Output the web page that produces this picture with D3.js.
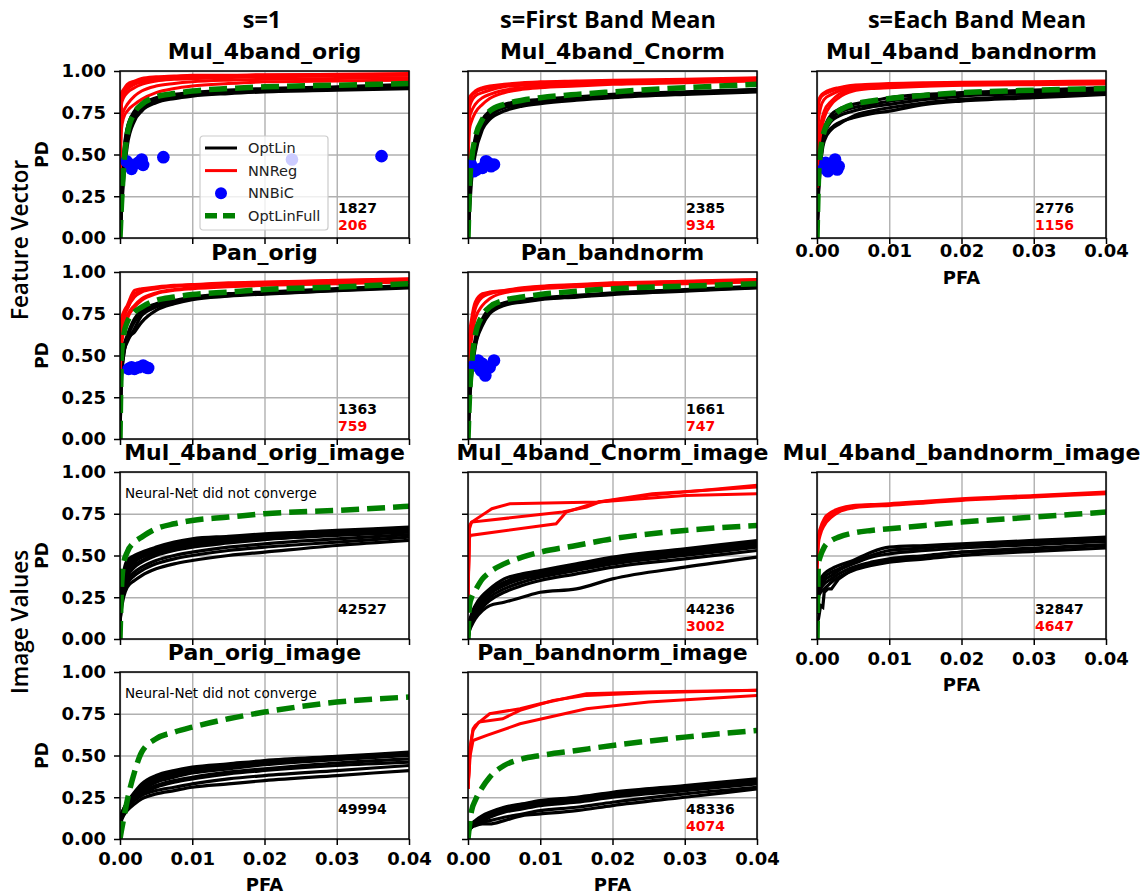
<!DOCTYPE html>
<html>
<head>
<meta charset="utf-8">
<script src="https://cdn.jsdelivr.net/npm/d3@7"></script>
<style>
body { margin: 0; background: #fff; }
</style>
</head>
<body>
<div id="chart"></div>
<script>
// shared PFA points for the smooth ROC curves
var pfaGrid = [0, 0.0002, 0.0005, 0.001, 0.002, 0.003, 0.005, 0.0075, 0.01, 0.015, 0.02, 0.03, 0.04];
var pfaTicks = [0, 0.01, 0.02, 0.03, 0.04];
var pdTicks = [0, 0.25, 0.5, 0.75, 1];
var colTitles = ["s=1", "s=First Band Mean", "s=Each Band Mean"];
var rowTitles = ["Feature Vector", "Image Values"];
var legendNames = ["OptLin", "NNReg", "NNBiC", "OptLinFull"];
var noteText = "Neural-Net did not converge";

// ---- Mul_4band_orig
var mulOrigLin = [
  [0, 0.22, 0.45, 0.62, 0.74, 0.79, 0.83, 0.85, 0.86, 0.875, 0.885, 0.895, 0.91],
  [0, 0.18, 0.40, 0.58, 0.72, 0.77, 0.82, 0.84, 0.855, 0.87, 0.88, 0.89, 0.90],
  [0, 0.25, 0.48, 0.65, 0.76, 0.80, 0.84, 0.86, 0.87, 0.885, 0.895, 0.905, 0.92],
  [0, 0.15, 0.35, 0.55, 0.70, 0.76, 0.81, 0.835, 0.85, 0.865, 0.875, 0.885, 0.895],
  [0, 0.20, 0.42, 0.60, 0.73, 0.78, 0.825, 0.845, 0.86, 0.87, 0.88, 0.895, 0.905],
  [0, 0.28, 0.50, 0.66, 0.75, 0.79, 0.835, 0.855, 0.865, 0.88, 0.89, 0.90, 0.915]
];
var mulOrigReg = [
  [0.5, 0.87, 0.89, 0.92, 0.94, 0.955, 0.965, 0.97, 0.975, 0.975, 0.978, 0.98, 0.985],
  [0.45, 0.84, 0.87, 0.90, 0.93, 0.945, 0.955, 0.965, 0.97, 0.972, 0.975, 0.978, 0.98],
  [0.4, 0.80, 0.84, 0.87, 0.90, 0.92, 0.94, 0.95, 0.955, 0.96, 0.965, 0.97, 0.975],
  [0.4, 0.72, 0.76, 0.80, 0.85, 0.88, 0.91, 0.925, 0.935, 0.945, 0.95, 0.955, 0.96],
  [0.35, 0.65, 0.72, 0.76, 0.80, 0.83, 0.87, 0.895, 0.91, 0.925, 0.935, 0.94, 0.945],
  [0.45, 0.82, 0.86, 0.89, 0.92, 0.935, 0.95, 0.96, 0.965, 0.968, 0.97, 0.975, 0.978]
];
var mulOrigBiC = [[0.0009, 0.46], [0.0016, 0.414], [0.0014, 0.44], [0.0025, 0.45], [0.003, 0.47], [0.0032, 0.438], [0.006, 0.484], [0.0238, 0.47], [0.0362, 0.49]];
var mulOrigFull = [0, 0.2, 0.42, 0.62, 0.75, 0.80, 0.845, 0.865, 0.88, 0.895, 0.905, 0.915, 0.925];

// ---- Mul_4band_Cnorm
var mulCnormLin = [
  [0, 0.2, 0.4, 0.55, 0.68, 0.73, 0.78, 0.80, 0.815, 0.835, 0.85, 0.865, 0.88],
  [0, 0.25, 0.45, 0.6, 0.71, 0.76, 0.8, 0.82, 0.83, 0.845, 0.86, 0.875, 0.89],
  [0, 0.15, 0.35, 0.5, 0.65, 0.71, 0.76, 0.79, 0.805, 0.825, 0.84, 0.86, 0.875],
  [0, 0.22, 0.42, 0.58, 0.7, 0.75, 0.79, 0.81, 0.825, 0.84, 0.855, 0.87, 0.885]
];
var mulCnormReg = [
  [0.5, 0.82, 0.85, 0.87, 0.89, 0.9, 0.915, 0.925, 0.93, 0.935, 0.94, 0.945, 0.955],
  [0.45, 0.78, 0.82, 0.85, 0.87, 0.885, 0.905, 0.915, 0.92, 0.93, 0.935, 0.94, 0.95],
  [0.4, 0.72, 0.76, 0.8, 0.84, 0.86, 0.885, 0.9, 0.91, 0.92, 0.925, 0.935, 0.945],
  [0.45, 0.65, 0.7, 0.75, 0.8, 0.835, 0.87, 0.89, 0.9, 0.91, 0.92, 0.93, 0.94],
  [0.5, 0.84, 0.86, 0.88, 0.9, 0.91, 0.92, 0.93, 0.935, 0.94, 0.945, 0.95, 0.96]
];
var mulCnormBiC = [[0.0004, 0.44], [0.0008, 0.40], [0.0012, 0.41], [0.002, 0.42], [0.0028, 0.45], [0.0032, 0.43], [0.0036, 0.44], [0.0025, 0.46]];
var mulCnormFull = [0, 0.3, 0.47, 0.6, 0.71, 0.76, 0.8, 0.825, 0.84, 0.86, 0.875, 0.9, 0.92];

// ---- Mul_4band_bandnorm
var mulBandLin = [
  [0, 0.3, 0.5, 0.65, 0.74, 0.77, 0.8, 0.82, 0.84, 0.86, 0.87, 0.885, 0.9],
  [0, 0.28, 0.45, 0.6, 0.66, 0.69, 0.72, 0.745, 0.76, 0.8, 0.82, 0.84, 0.86],
  [0, 0.3, 0.48, 0.62, 0.7, 0.73, 0.76, 0.785, 0.8, 0.83, 0.85, 0.865, 0.88],
  [0, 0.32, 0.5, 0.64, 0.72, 0.75, 0.78, 0.8, 0.82, 0.845, 0.86, 0.875, 0.89],
  [0, 0.25, 0.44, 0.58, 0.65, 0.68, 0.73, 0.76, 0.78, 0.81, 0.83, 0.85, 0.87]
];
var mulBandReg = [
  [0.45, 0.8, 0.84, 0.86, 0.88, 0.895, 0.91, 0.915, 0.92, 0.925, 0.928, 0.932, 0.935],
  [0.4, 0.7, 0.78, 0.83, 0.86, 0.88, 0.9, 0.91, 0.915, 0.92, 0.924, 0.928, 0.932],
  [0.35, 0.6, 0.68, 0.76, 0.82, 0.86, 0.89, 0.9, 0.905, 0.912, 0.918, 0.922, 0.926],
  [0.3, 0.5, 0.62, 0.72, 0.8, 0.84, 0.88, 0.895, 0.9, 0.908, 0.914, 0.918, 0.922],
  [0.45, 0.82, 0.85, 0.87, 0.89, 0.9, 0.915, 0.92, 0.925, 0.93, 0.932, 0.936, 0.94]
];
var mulBandBiC = [[0.001, 0.42], [0.0015, 0.40], [0.002, 0.44], [0.0025, 0.47], [0.003, 0.43], [0.0028, 0.41], [0.0012, 0.45]];
var mulBandFull = [0, 0.35, 0.52, 0.64, 0.72, 0.76, 0.8, 0.82, 0.835, 0.855, 0.87, 0.885, 0.895];

// ---- Pan_orig
var panOrigLin = [
  [0, 0.4, 0.52, 0.58, 0.66, 0.74, 0.79, 0.82, 0.84, 0.86, 0.87, 0.89, 0.91],
  [0, 0.38, 0.5, 0.6, 0.7, 0.76, 0.8, 0.825, 0.845, 0.865, 0.875, 0.895, 0.915],
  [0, 0.42, 0.55, 0.62, 0.72, 0.77, 0.81, 0.83, 0.85, 0.87, 0.88, 0.9, 0.92],
  [0, 0.35, 0.5, 0.6, 0.64, 0.7, 0.77, 0.81, 0.835, 0.855, 0.868, 0.888, 0.905]
];
var panOrigReg = [
  [0.45, 0.72, 0.76, 0.8, 0.89, 0.9, 0.91, 0.92, 0.925, 0.935, 0.94, 0.95, 0.96],
  [0.4, 0.65, 0.72, 0.78, 0.85, 0.88, 0.9, 0.915, 0.92, 0.93, 0.935, 0.945, 0.955],
  [0.38, 0.6, 0.68, 0.74, 0.8, 0.84, 0.875, 0.895, 0.905, 0.918, 0.925, 0.935, 0.945],
  [0.42, 0.7, 0.74, 0.78, 0.87, 0.89, 0.905, 0.915, 0.922, 0.93, 0.937, 0.947, 0.957],
  [0.35, 0.55, 0.64, 0.72, 0.79, 0.83, 0.87, 0.89, 0.9, 0.912, 0.92, 0.93, 0.94]
];
var panOrigBiC = [[0.0012, 0.42], [0.0016, 0.43], [0.002, 0.42], [0.0026, 0.43], [0.0032, 0.44], [0.0036, 0.43], [0.0039, 0.425]];
var panOrigFull = [0, 0.5, 0.62, 0.7, 0.76, 0.79, 0.83, 0.85, 0.865, 0.88, 0.895, 0.91, 0.93];

// ---- Pan_bandnorm
var panBandLin = [
  [0, 0.25, 0.42, 0.58, 0.7, 0.76, 0.81, 0.83, 0.84, 0.855, 0.87, 0.89, 0.91],
  [0, 0.2, 0.38, 0.55, 0.68, 0.75, 0.8, 0.82, 0.835, 0.85, 0.865, 0.885, 0.905],
  [0, 0.28, 0.45, 0.6, 0.72, 0.78, 0.815, 0.835, 0.845, 0.86, 0.875, 0.895, 0.915],
  [0, 0.22, 0.4, 0.56, 0.69, 0.76, 0.805, 0.825, 0.838, 0.853, 0.868, 0.888, 0.908]
];
var panBandReg = [
  [0.45, 0.62, 0.72, 0.82, 0.87, 0.88, 0.89, 0.905, 0.915, 0.925, 0.935, 0.945, 0.955],
  [0.4, 0.55, 0.66, 0.78, 0.85, 0.87, 0.885, 0.9, 0.91, 0.92, 0.93, 0.94, 0.95],
  [0.38, 0.5, 0.6, 0.72, 0.8, 0.84, 0.875, 0.89, 0.9, 0.912, 0.92, 0.93, 0.94],
  [0.42, 0.58, 0.68, 0.8, 0.86, 0.875, 0.888, 0.902, 0.912, 0.922, 0.932, 0.942, 0.952]
];
var panBandBiC = [[0.0008, 0.44], [0.0014, 0.47], [0.002, 0.45], [0.0018, 0.41], [0.0024, 0.38], [0.0026, 0.42], [0.0036, 0.47], [0.003, 0.43]];
var panBandFull = [0, 0.25, 0.44, 0.62, 0.74, 0.79, 0.83, 0.85, 0.865, 0.885, 0.9, 0.915, 0.93];

// ---- Mul_4band_orig_image (no NN result)
var mulOrigImgLin = [
  [0.15, 0.3, 0.4, 0.47, 0.5, 0.52, 0.55, 0.58, 0.6, 0.615, 0.63, 0.65, 0.67],
  [0.15, 0.28, 0.37, 0.44, 0.48, 0.5, 0.53, 0.56, 0.58, 0.6, 0.615, 0.64, 0.66],
  [0.12, 0.25, 0.34, 0.41, 0.46, 0.49, 0.52, 0.545, 0.565, 0.59, 0.605, 0.63, 0.65],
  [0.12, 0.22, 0.3, 0.37, 0.43, 0.46, 0.5, 0.53, 0.55, 0.575, 0.595, 0.62, 0.64],
  [0.1, 0.2, 0.27, 0.33, 0.38, 0.41, 0.45, 0.48, 0.5, 0.53, 0.55, 0.58, 0.61],
  [0.1, 0.18, 0.25, 0.31, 0.35, 0.38, 0.42, 0.45, 0.47, 0.5, 0.52, 0.56, 0.59],
  [0.15, 0.3, 0.38, 0.45, 0.49, 0.51, 0.54, 0.57, 0.59, 0.605, 0.62, 0.645, 0.665],
  [0.12, 0.24, 0.32, 0.39, 0.44, 0.47, 0.51, 0.54, 0.56, 0.585, 0.6, 0.625, 0.645],
  [0.1, 0.21, 0.29, 0.35, 0.4, 0.43, 0.47, 0.5, 0.52, 0.55, 0.57, 0.6, 0.625],
  [0.13, 0.27, 0.36, 0.43, 0.47, 0.5, 0.53, 0.555, 0.575, 0.595, 0.61, 0.635, 0.655]
];
var mulOrigImgFull = [0, 0.3, 0.45, 0.52, 0.58, 0.61, 0.66, 0.69, 0.71, 0.73, 0.75, 0.77, 0.795];

// ---- Mul_4band_Cnorm_image
var mulCnormImgLin = [
  [0, 0.1, 0.15, 0.2, 0.26, 0.3, 0.36, 0.39, 0.41, 0.45, 0.49, 0.54, 0.59],
  [0, 0.08, 0.13, 0.18, 0.24, 0.28, 0.33, 0.37, 0.39, 0.43, 0.47, 0.52, 0.57],
  [0, 0.06, 0.1, 0.15, 0.21, 0.25, 0.3, 0.34, 0.37, 0.41, 0.45, 0.5, 0.55],
  [0, 0.05, 0.08, 0.12, 0.17, 0.2, 0.22, 0.25, 0.28, 0.3, 0.36, 0.43, 0.49],
  [0, 0.05, 0.09, 0.14, 0.19, 0.23, 0.28, 0.32, 0.35, 0.39, 0.43, 0.48, 0.53],
  [0, 0.09, 0.14, 0.19, 0.25, 0.29, 0.34, 0.38, 0.4, 0.44, 0.48, 0.53, 0.58],
  [0, 0.07, 0.12, 0.17, 0.23, 0.27, 0.32, 0.36, 0.38, 0.42, 0.46, 0.51, 0.56]
];
var mulCnormImgReg = [
  [[0, 0.25], [0.0002, 0.66], [0.0005, 0.70], [0.0033, 0.78], [0.0058, 0.81], [0.018, 0.82], [0.0255, 0.87], [0.04, 0.91]],
  [[0, 0.25], [0.0002, 0.68], [0.0005, 0.70], [0.0131, 0.76], [0.0164, 0.79], [0.0182, 0.82], [0.025, 0.86], [0.04, 0.92]],
  [[0, 0.25], [0.0002, 0.6], [0.0003, 0.62], [0.0122, 0.69], [0.0136, 0.76], [0.018, 0.82], [0.03, 0.86], [0.04, 0.87]]
];
var mulCnormImgFull = [0, 0.2, 0.25, 0.29, 0.36, 0.4, 0.45, 0.49, 0.52, 0.56, 0.6, 0.65, 0.68];

// ---- Mul_4band_bandnorm_image
var mulBandImgLin = [
  [0.25, 0.33, 0.36, 0.39, 0.42, 0.44, 0.47, 0.52, 0.55, 0.56, 0.57, 0.59, 0.61],
  [0.22, 0.3, 0.34, 0.37, 0.4, 0.42, 0.46, 0.5, 0.53, 0.545, 0.56, 0.58, 0.6],
  [0.2, 0.28, 0.32, 0.35, 0.38, 0.41, 0.45, 0.49, 0.51, 0.53, 0.545, 0.565, 0.585],
  [0.18, 0.26, 0.3, 0.33, 0.36, 0.39, 0.43, 0.46, 0.48, 0.5, 0.52, 0.545, 0.565],
  [0.15, 0.25, 0.28, 0.3, 0.34, 0.37, 0.41, 0.44, 0.46, 0.48, 0.5, 0.525, 0.545],
  [[0, 0.1], [0.0002, 0.12], [0.0005, 0.2], [0.0008, 0.19], [0.001, 0.28], [0.0015, 0.3], [0.002, 0.3], [0.003, 0.36], [0.005, 0.42], [0.01, 0.47], [0.02, 0.52], [0.04, 0.56]]
];
var mulBandImgReg = [
  [0.45, 0.62, 0.67, 0.72, 0.76, 0.78, 0.8, 0.805, 0.81, 0.825, 0.84, 0.86, 0.88],
  [0.42, 0.6, 0.65, 0.7, 0.745, 0.77, 0.79, 0.8, 0.805, 0.82, 0.835, 0.855, 0.875],
  [0.4, 0.57, 0.63, 0.68, 0.73, 0.76, 0.785, 0.795, 0.8, 0.815, 0.83, 0.85, 0.87]
];
var mulBandImgFull = [0, 0.45, 0.5, 0.55, 0.59, 0.61, 0.635, 0.65, 0.66, 0.68, 0.7, 0.73, 0.76];

// ---- Pan_orig_image (no NN result)
var panOrigImgLin = [
  [0.12, 0.15, 0.18, 0.22, 0.28, 0.33, 0.38, 0.41, 0.43, 0.45, 0.47, 0.495, 0.52],
  [0.12, 0.14, 0.17, 0.21, 0.27, 0.31, 0.36, 0.39, 0.41, 0.435, 0.455, 0.485, 0.51],
  [0.1, 0.13, 0.16, 0.2, 0.25, 0.29, 0.34, 0.37, 0.395, 0.42, 0.445, 0.475, 0.5],
  [0.1, 0.12, 0.15, 0.19, 0.24, 0.27, 0.31, 0.34, 0.36, 0.39, 0.41, 0.44, 0.46],
  [0.08, 0.11, 0.14, 0.17, 0.21, 0.24, 0.27, 0.29, 0.31, 0.33, 0.35, 0.38, 0.41],
  [0.1, 0.13, 0.16, 0.19, 0.23, 0.26, 0.29, 0.31, 0.33, 0.36, 0.38, 0.41, 0.44],
  [0.12, 0.15, 0.18, 0.22, 0.27, 0.32, 0.37, 0.4, 0.42, 0.44, 0.465, 0.49, 0.515],
  [0.11, 0.14, 0.17, 0.21, 0.26, 0.3, 0.35, 0.38, 0.4, 0.43, 0.45, 0.48, 0.505],
  [0.1, 0.13, 0.16, 0.2, 0.25, 0.28, 0.32, 0.35, 0.37, 0.4, 0.42, 0.455, 0.48]
];
var panOrigImgFull = [0, 0.05, 0.12, 0.23, 0.4, 0.52, 0.6, 0.64, 0.67, 0.72, 0.76, 0.82, 0.85];

// ---- Pan_bandnorm_image
var panBandImgLin = [
  [0.05, 0.07, 0.09, 0.11, 0.14, 0.16, 0.19, 0.21, 0.23, 0.25, 0.28, 0.32, 0.36],
  [0.05, 0.07, 0.08, 0.1, 0.13, 0.15, 0.18, 0.2, 0.22, 0.24, 0.27, 0.31, 0.35],
  [0.04, 0.06, 0.08, 0.1, 0.12, 0.14, 0.17, 0.19, 0.21, 0.23, 0.26, 0.3, 0.34],
  [0.04, 0.06, 0.07, 0.09, 0.11, 0.13, 0.16, 0.18, 0.2, 0.22, 0.25, 0.29, 0.33],
  [0.03, 0.05, 0.07, 0.08, 0.09, 0.09, 0.11, 0.14, 0.15, 0.17, 0.2, 0.25, 0.3],
  [0.04, 0.06, 0.07, 0.09, 0.1, 0.11, 0.13, 0.15, 0.17, 0.19, 0.22, 0.27, 0.31],
  [0.05, 0.07, 0.085, 0.105, 0.135, 0.155, 0.185, 0.205, 0.225, 0.245, 0.275, 0.315, 0.355]
];
var panBandImgReg = [
  [[0, 0.3], [0.0003, 0.55], [0.0007, 0.66], [0.001, 0.68], [0.003, 0.75], [0.0072, 0.78], [0.01, 0.81], [0.0164, 0.87], [0.025, 0.88], [0.04, 0.89]],
  [[0, 0.3], [0.0003, 0.55], [0.0007, 0.65], [0.0015, 0.7], [0.0048, 0.72], [0.0072, 0.77], [0.0118, 0.83], [0.0164, 0.86], [0.025, 0.875], [0.04, 0.89]],
  [[0, 0.3], [0.0003, 0.5], [0.0007, 0.59], [0.0026, 0.62], [0.0072, 0.69], [0.0164, 0.78], [0.025, 0.82], [0.04, 0.86]]
];
var panBandImgFull = [0, 0.08, 0.17, 0.23, 0.31, 0.37, 0.44, 0.48, 0.5, 0.53, 0.56, 0.61, 0.65];

// counts printed in each panel: [OptLin, NNReg]
var panelCounts = {
  "Mul_4band_orig": ["1827", "206"],
  "Mul_4band_Cnorm": ["2385", "934"],
  "Mul_4band_bandnorm": ["2776", "1156"],
  "Pan_orig": ["1363", "759"],
  "Pan_bandnorm": ["1661", "747"],
  "Mul_4band_orig_image": ["42527", null],
  "Mul_4band_Cnorm_image": ["44236", "3002"],
  "Mul_4band_bandnorm_image": ["32847", "4647"],
  "Pan_orig_image": ["49994", null],
  "Pan_bandnorm_image": ["48336", "4074"]
};

var panels = [
  {name: "Mul_4band_orig", col: 0, row: 0, lin: mulOrigLin, reg: mulOrigReg, bic: mulOrigBiC, full: mulOrigFull, legend: true},
  {name: "Mul_4band_Cnorm", col: 1, row: 0, lin: mulCnormLin, reg: mulCnormReg, bic: mulCnormBiC, full: mulCnormFull},
  {name: "Mul_4band_bandnorm", col: 2, row: 0, lin: mulBandLin, reg: mulBandReg, bic: mulBandBiC, full: mulBandFull, xlab: true},
  {name: "Pan_orig", col: 0, row: 1, lin: panOrigLin, reg: panOrigReg, bic: panOrigBiC, full: panOrigFull},
  {name: "Pan_bandnorm", col: 1, row: 1, lin: panBandLin, reg: panBandReg, bic: panBandBiC, full: panBandFull},
  {name: "Mul_4band_orig_image", col: 0, row: 2, lin: mulOrigImgLin, reg: [], bic: [], full: mulOrigImgFull, note: true},
  {name: "Mul_4band_Cnorm_image", col: 1, row: 2, lin: mulCnormImgLin, reg: mulCnormImgReg, bic: [], full: mulCnormImgFull},
  {name: "Mul_4band_bandnorm_image", col: 2, row: 2, lin: mulBandImgLin, reg: mulBandImgReg, bic: [], full: mulBandImgFull, xlab: true},
  {name: "Pan_orig_image", col: 0, row: 3, lin: panOrigImgLin, reg: [], bic: [], full: panOrigImgFull, note: true, xlab: true},
  {name: "Pan_bandnorm_image", col: 1, row: 3, lin: panBandImgLin, reg: panBandImgReg, bic: [], full: panBandImgFull, xlab: true}
];

// layout
var W = 1146, H = 896;
var colX = [120, 468, 817];
var rowY = [71, 272, 472, 672];
var pw = 289, ph = 167;
var tickFont = "DejaVu Sans, sans-serif";
var headFont = "'Open Sans', sans-serif";

var svg = d3.select('#chart').append('svg')
  .attr('width', W)
  .attr('height', H);

function toPoints(c) {
  if (typeof c[0] === 'number') {
    return c.map(function(v, i) { return {x: pfaGrid[i], y: v}; });
  }
  return c.map(function(p) { return {x: p[0], y: p[1]}; });
}

var xScale = d3.scaleLinear().domain([0, 0.04]).range([0, pw]);
var yScale = d3.scaleLinear().domain([0, 1]).range([ph, 0]);

function lineFor(c) {
  return d3.line()
    .x(function(d) { return xScale(d.x); })
    .y(function(d) { return yScale(d.y); })
    .curve(typeof c[0] === 'number' ? d3.curveMonotoneX : d3.curveLinear)(toPoints(c));
}

panels.forEach(function(p, k) {
  var x0 = colX[p.col], y0 = rowY[p.row];
  var g = svg.append('g').attr('transform', 'translate(' + x0 + ',' + y0 + ')');

  // grid
  var gx = g.append('g').attr('transform', 'translate(0,' + ph + ')')
    .call(d3.axisBottom(xScale).tickValues(pfaTicks).tickSize(-ph).tickFormat(''));
  var gy = g.append('g')
    .call(d3.axisLeft(yScale).tickValues(pdTicks).tickSize(-pw).tickFormat(''));
  [gx, gy].forEach(function(a) {
    a.select('.domain').remove();
    a.selectAll('line').attr('stroke', '#b0b0b0').attr('stroke-width', 1.4);
  });

  var clipId = 'clip' + k;
  g.append('clipPath').attr('id', clipId)
    .append('rect').attr('width', pw).attr('height', ph);
  var plot = g.append('g').attr('clip-path', 'url(#' + clipId + ')');

  p.lin.forEach(function(c) {
    plot.append('path').attr('d', lineFor(c))
      .attr('fill', 'none').attr('stroke', 'black').attr('stroke-width', 3.2);
  });
  p.reg.forEach(function(c) {
    plot.append('path').attr('d', lineFor(c))
      .attr('fill', 'none').attr('stroke', '#ff0000').attr('stroke-width', 3);
  });
  plot.selectAll('circle.bic').data(p.bic).enter().append('circle')
    .attr('cx', function(d) { return xScale(d[0]); })
    .attr('cy', function(d) { return yScale(d[1]); })
    .attr('r', 6.3)
    .attr('fill', '#0000ff');
  plot.append('path').attr('d', lineFor(p.full))
    .attr('fill', 'none').attr('stroke', '#008000').attr('stroke-width', 5.5)
    .attr('stroke-dasharray', '18,8');

  // axes (the top-right panel sits its labels a little closer in the reference)
  var pad = p.row === 0 ? 0 : 7;
  var ax = g.append('g').attr('transform', 'translate(0,' + ph + ')')
    .call(d3.axisBottom(xScale).tickValues(pfaTicks).tickSize(6).tickPadding(pad)
      .tickFormat(p.xlab ? d3.format('.2f') : ''));
  var ay = g.append('g')
    .call(d3.axisLeft(yScale).tickValues(pdTicks).tickSize(6).tickPadding(8)
      .tickFormat(p.col === 0 ? d3.format('.2f') : ''));
  [ax, ay].forEach(function(a) {
    a.select('.domain').remove();
    a.selectAll('line').attr('stroke', 'black').attr('stroke-width', 1.5);
    a.selectAll('text').attr('font-family', tickFont).attr('font-weight', 'bold')
      .attr('font-size', 18).attr('fill', 'black');
  });
  g.append('rect').attr('width', pw).attr('height', ph)
    .attr('fill', 'none').attr('stroke', 'black').attr('stroke-width', 1.5);

  // titles and labels
  g.append('text').attr('x', pw / 2).attr('y', -12)
    .attr('text-anchor', 'middle')
    .attr('font-family', tickFont).attr('font-weight', 'bold').attr('font-size', 22)
    .text(p.name);
  if (p.col === 0) {
    g.append('text')
      .attr('transform', 'translate(-78,' + (ph / 2) + ') rotate(-90)')
      .attr('text-anchor', 'middle').attr('dy', '0.36em')
      .attr('font-family', tickFont).attr('font-weight', 'bold').attr('font-size', 17)
      .text('PD');
  }
  if (p.xlab) {
    g.append('text').attr('x', pw / 2).attr('y', ph + (p.row === 0 ? 46 : 52))
      .attr('text-anchor', 'middle')
      .attr('font-family', tickFont).attr('font-weight', 'bold').attr('font-size', 18)
      .text('PFA');
  }
  var cnt = panelCounts[p.name];
  g.append('text').attr('x', 218).attr('y', ph - 25)
    .attr('font-family', tickFont).attr('font-weight', 'bold').attr('font-size', 14)
    .attr('fill', 'black').text(cnt[0]);
  if (cnt[1]) {
    g.append('text').attr('x', 218).attr('y', ph - 8)
      .attr('font-family', tickFont).attr('font-weight', 'bold').attr('font-size', 14)
      .attr('fill', '#ff0000').text(cnt[1]);
  }
  if (p.note) {
    g.append('text').attr('x', 5).attr('y', 26)
      .attr('font-family', tickFont).attr('font-size', 13.5).attr('fill', 'black')
      .text(noteText);
  }

  if (p.legend) {
    var lg = g.append('g').attr('transform', 'translate(80,65)');
    lg.append('rect').attr('width', 128).attr('height', 94).attr('rx', 3)
      .attr('fill', 'white').attr('fill-opacity', 0.8)
      .attr('stroke', '#cccccc').attr('stroke-width', 1.2);
    legendNames.forEach(function(n, i) {
      var yy = 12 + i * 22.6;
      if (i === 2) {
        lg.append('circle').attr('cx', 21).attr('cy', yy).attr('r', 6).attr('fill', '#0000ff');
      } else {
        var st = [['black', 3, null], ['#ff0000', 3, null], null, ['#008000', 5.5, '12,6']][i];
        lg.append('line').attr('x1', 5).attr('x2', 37).attr('y1', yy).attr('y2', yy)
          .attr('stroke', st[0]).attr('stroke-width', st[1])
          .attr('stroke-dasharray', st[2]);
      }
      lg.append('text').attr('x', 48).attr('y', yy).attr('dy', '0.35em')
        .attr('font-family', tickFont).attr('font-size', 14.5).attr('fill', '#222')
        .text(n);
    });
  }
});

// column headers
var colCenters = [262, 608, 977];
colTitles.forEach(function(t, i) {
  svg.append('text').attr('x', colCenters[i]).attr('y', 28)
    .attr('text-anchor', 'middle')
    .attr('font-family', headFont).attr('font-weight', 'bold').attr('font-size', 23.5)
    .text(t);
});
// row group labels
var rowCenters = [240, 622];
rowTitles.forEach(function(t, i) {
  svg.append('text')
    .attr('transform', 'translate(20,' + rowCenters[i] + ') rotate(-90)')
    .attr('text-anchor', 'middle').attr('dy', '0.36em')
    .attr('font-family', headFont).attr('font-weight', 600).attr('font-size', 22.5)
    .text(t);
});
</script>
</body>
</html>
